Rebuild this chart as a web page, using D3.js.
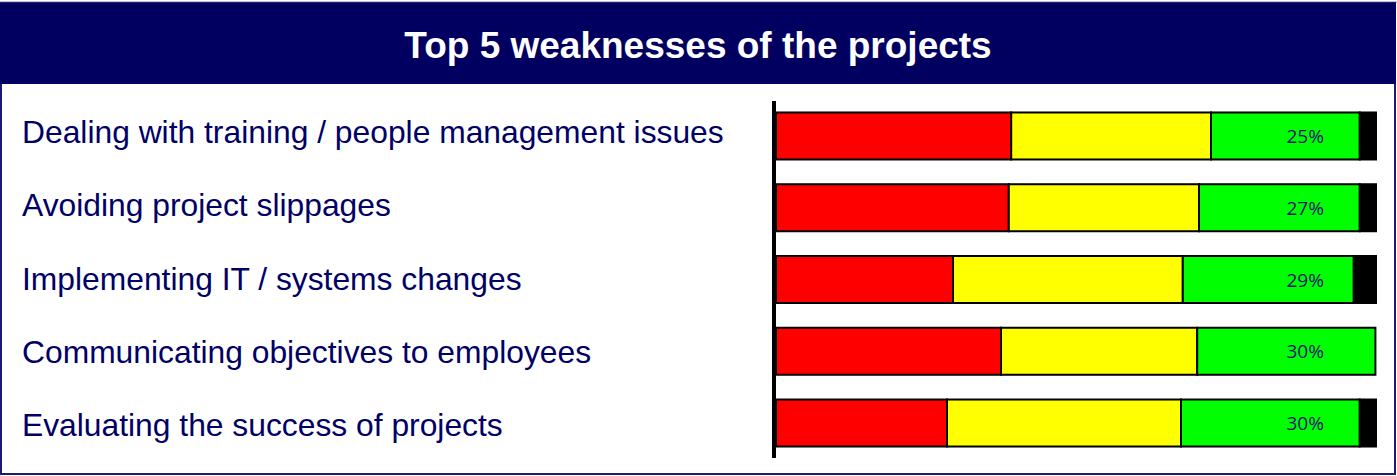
<!DOCTYPE html>
<html lang="en">
<head>
    <meta charset="UTF-8">
    <title>Top 5 weaknesses of the projects</title>
    <script src="https://d3js.org/d3.v7.min.js"></script>
    <style>
        body { margin: 0; background: #fff; }
        text { font-family: "Liberation Sans", Arial, sans-serif; }
        .label { fill: #000066; font-size: 31.8px; }
        .pct { font-family: "Open Sans", sans-serif; font-size: 19px; fill: #14146e; }
    </style>
</head>
<body>
<div id="chart"></div>
<script>
    const title = "Top 5 weaknesses of the projects";
    const categories = [
        "Dealing with training / people management issues",
        "Avoiding project slippages",
        "Implementing IT / systems changes",
        "Communicating objectives to employees",
        "Evaluating the success of projects"
    ];
    // share of answers per category (%)
    const red    = [39.2, 38.8, 29.5, 37.5, 28.5];
    const yellow = [33.3, 31.7, 38.3, 32.7, 39.0];
    const green  = [24.8, 26.8, 28.5, 29.7, 29.8];
    const black  = [2.7, 2.7, 3.7, 0, 2.7];
    const pctLabels = ["25%", "27%", "29%", "30%", "30%"];

    const seriesKeys = ["red", "yellow", "green", "black"];
    const colors = { red: "#ff0000", yellow: "#ffff00", green: "#00ff00", black: "#000000" };

    const rows = categories.map((c, i) => ({
        cat: c, red: red[i], yellow: yellow[i], green: green[i], black: black[i], label: pctLabels[i]
    }));

    const W = 1397, H = 476;
    const svg = d3.select("#chart").append("svg")
        .attr("width", W)
        .attr("height", H);

    // frame + header band
    svg.append("line")
        .attr("x1", 0).attr("x2", W).attr("y1", 2).attr("y2", 2)
        .attr("stroke", "#c4c4d4").attr("stroke-width", 2);
    svg.append("rect")
        .attr("x", 1).attr("y", 3).attr("width", 1394).attr("height", 471)
        .attr("fill", "#fff").attr("stroke", "#1a1a78").attr("stroke-width", 2);
    svg.append("rect")
        .attr("x", 0).attr("y", 3).attr("width", 1396).attr("height", 81)
        .attr("fill", "#010060");
    svg.append("text")
        .attr("x", 698).attr("y", 58)
        .attr("text-anchor", "middle")
        .attr("fill", "#fff")
        .attr("font-weight", "bold")
        .attr("font-size", "37px")
        .text(title);

    // scales
    const x = d3.scaleLinear().domain([0, 100]).range([776, 1376]);
    const y = d3.scaleBand().domain(categories).range([101, 458])
        .paddingInner(0.345).paddingOuter(0.16);
    const yLabel = d3.scalePoint().domain(categories).range([143, 436]);

    // category labels
    svg.append("g").selectAll("text")
        .data(rows)
        .enter().append("text")
        .attr("class", "label")
        .attr("x", 22)
        .attr("y", d => yLabel(d.cat))
        .text(d => d.cat);

    // stacked bars
    const stacked = d3.stack().keys(seriesKeys)(rows);
    svg.append("g").selectAll("g")
        .data(stacked)
        .enter().append("g")
        .attr("fill", d => colors[d.key])
        .selectAll("rect")
        .data(d => d)
        .enter().append("rect")
        .attr("x", d => x(d[0]))
        .attr("y", d => y(d.data.cat))
        .attr("width", d => x(d[1]) - x(d[0]))
        .attr("height", y.bandwidth())
        .attr("stroke", "#000")
        .attr("stroke-width", d => (d[1] - d[0]) > 0 ? 2 : 0);

    // percentage labels
    svg.append("g").selectAll("text")
        .data(rows)
        .enter().append("text")
        .attr("class", "pct")
        .attr("x", x(88.2))
        .attr("y", d => y(d.cat) + y.bandwidth() / 2 + 7)
        .attr("text-anchor", "middle")
        .text(d => d.label);

    // vertical axis line
    svg.append("line")
        .attr("x1", 774).attr("x2", 774)
        .attr("y1", y.range()[0]).attr("y2", y.range()[1])
        .attr("stroke", "#000").attr("stroke-width", 4);
</script>
</body>
</html>
